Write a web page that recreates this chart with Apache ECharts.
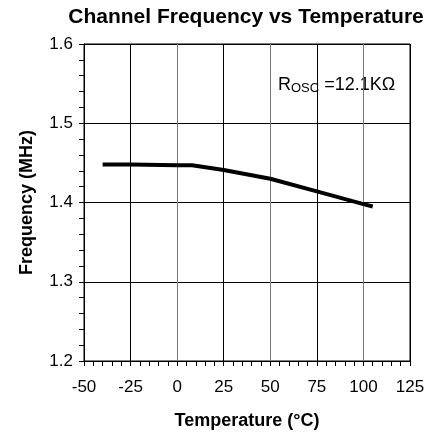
<!DOCTYPE html>
<html>
<head>
<meta charset="utf-8">
<script src="https://cdn.jsdelivr.net/npm/echarts@6/dist/echarts.min.js"></script>
<style>html,body{margin:0;padding:0;background:#fff}#c{width:438px;height:435px}</style>
</head>
<body>
<div id="c"></div>
<script>
const temperature = [-40, -25, 0, 8, 25, 50, 75, 100, 105];
const frequency = [1.448, 1.448, 1.447, 1.447, 1.441, 1.430, 1.414, 1.398, 1.395];
const xTicks = [-50, -25, 0, 25, 50, 75, 100, 125];
const yTicks = [1.2, 1.3, 1.4, 1.5, 1.6];

const chart = echarts.init(document.getElementById('c'));
const font = 'Arial, "Liberation Sans", Helvetica, sans-serif';
chart.setOption({
  animation: false,
  title: {
    text: 'Channel Frequency vs Temperature',
    left: 241, textAlign: 'center', top: 2,
    textStyle: { fontFamily: font, fontSize: 21, fontWeight: 'bold', color: '#000' }
  },
  grid: { left: 84, right: 28, top: 44, bottom: 74, show: true, borderColor: '#000', borderWidth: 1 },
  xAxis: {
    type: 'value', min: xTicks[0], max: xTicks[xTicks.length - 1], interval: 25,
    name: 'Temperature (°C)', nameLocation: 'middle', nameGap: 51,
    nameTextStyle: { fontFamily: font, fontSize: 18, fontWeight: 'bold', color: '#000' },
    axisLine: { onZero: false, lineStyle: { color: '#000', width: 1 } },
    axisTick: { inside: false, length: 5, lineStyle: { color: '#000' } },
    minorTick: { show: true, splitNumber: 5, length: 5, lineStyle: { color: '#000' } },
    axisLabel: { fontFamily: font, fontSize: 17, color: '#000', margin: 18 },
    splitLine: { show: true, lineStyle: { color: ['#777', '#000'], width: 1 } }
  },
  yAxis: {
    type: 'value', min: yTicks[0], max: yTicks[yTicks.length - 1], interval: 0.1,
    name: 'Frequency (MHz)', nameLocation: 'middle', nameGap: 48,
    nameTextStyle: { fontFamily: font, fontSize: 18, fontWeight: 'bold', color: '#000' },
    axisLine: { show: true, onZero: false, lineStyle: { color: '#000', width: 1 } },
    axisTick: { show: true, inside: false, length: 5, lineStyle: { color: '#000' } },
    minorTick: { show: true, splitNumber: 5, length: 5, lineStyle: { color: '#000' } },
    axisLabel: { fontFamily: font, fontSize: 17, color: '#000', margin: 11,
      formatter: v => v.toFixed(1) },
    splitLine: { show: true, lineStyle: { color: '#000', width: 1 } }
  },
  graphic: [{
    type: 'text', left: 278, top: 76,
    style: {
      text: '{r|R}{s|OSC}{r| =12.1KΩ}',
      rich: {
        r: { fontFamily: font, fontSize: 18, fill: '#000' },
        s: { fontFamily: font, fontSize: 13, fill: '#000', padding: [7, 0, 0, 0] }
      }
    }
  }],
  series: [{
    type: 'line',
    data: temperature.map((t, i) => [t, frequency[i]]),
    showSymbol: false,
    lineStyle: { color: '#000', width: 4 }
  }]
});
</script>
</body>
</html>
